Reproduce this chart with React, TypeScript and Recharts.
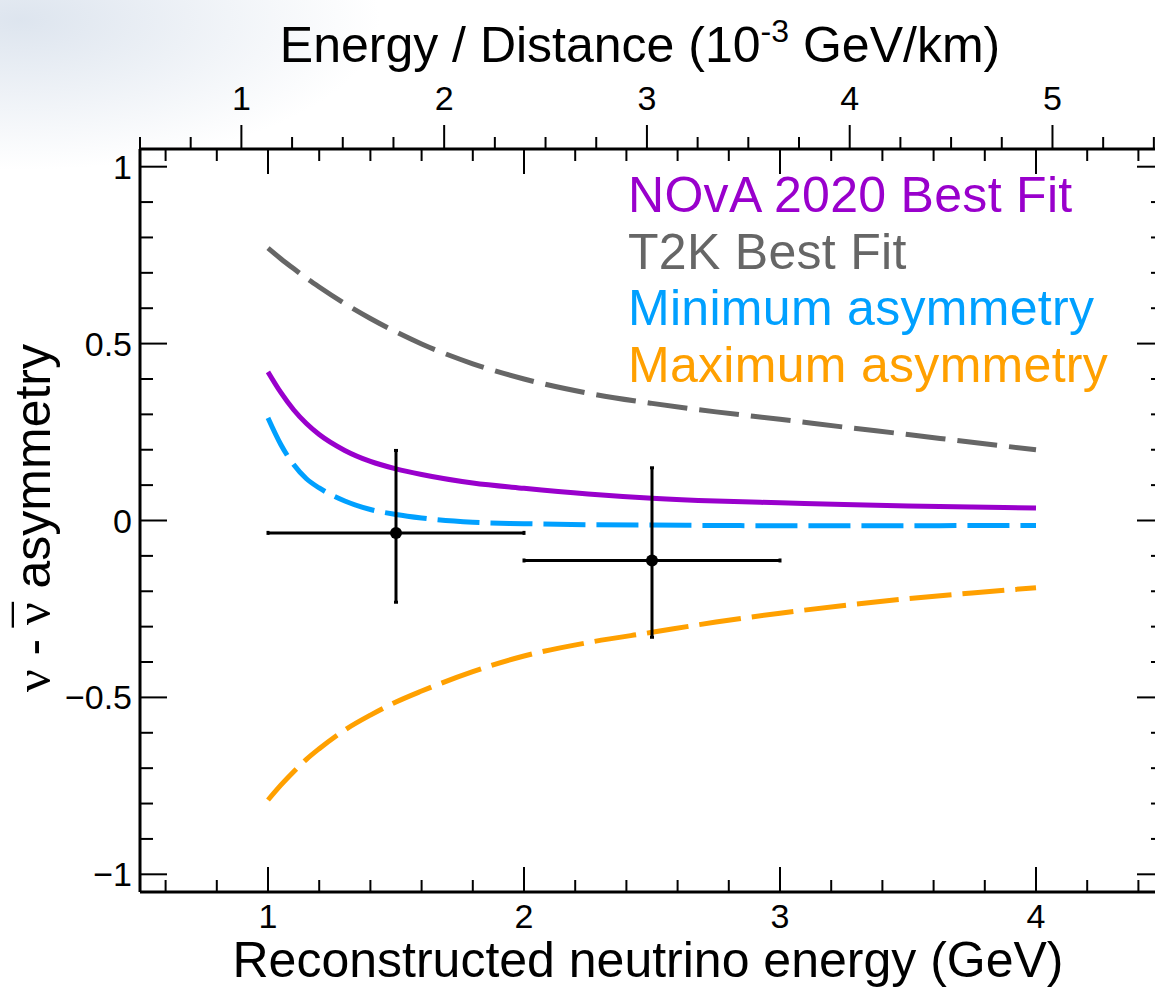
import React from "react";
import { ComposedChart, Line, Scatter, ErrorBar, XAxis, YAxis, Legend } from "recharts";

const FONT = "'Liberation Sans', Arial, Helvetica, sans-serif";
const GREEK = "'Liberation Serif', 'Times New Roman', serif";

// curves: asymmetry vs reconstructed neutrino energy (GeV)
const ENERGY = [1.0, 1.05, 1.1, 1.15, 1.2, 1.3, 1.4, 1.5, 1.6, 1.8, 2.0, 2.25, 2.5, 2.75, 3.0, 3.25, 3.5, 3.75, 4.0];
const NOVA = [0.42, 0.362, 0.313, 0.274, 0.243, 0.198, 0.167, 0.146, 0.13, 0.106, 0.091, 0.075, 0.063, 0.055, 0.05, 0.045, 0.041, 0.038, 0.035];
const T2K = [0.77, 0.74, 0.712, 0.685, 0.66, 0.613, 0.571, 0.533, 0.499, 0.443, 0.4, 0.36, 0.331, 0.307, 0.286, 0.264, 0.243, 0.221, 0.2];
const MIN_ASYM = [0.29, 0.215, 0.158, 0.118, 0.092, 0.055, 0.031, 0.017, 0.007, -0.005, -0.009, -0.012, -0.013, -0.014, -0.015, -0.015, -0.015, -0.014, -0.014];
const MAX_ASYM = [-0.79, -0.748, -0.71, -0.675, -0.645, -0.592, -0.55, -0.513, -0.482, -0.427, -0.383, -0.345, -0.316, -0.287, -0.262, -0.24, -0.221, -0.205, -0.19];

// data points with errors
const POINT_E = [1.5, 2.5];
const POINT_ASYM = [-0.035, -0.113];
const POINT_E_ERR = [0.5, 0.5];
const POINT_ASYM_LOW = [0.196, 0.217];
const POINT_ASYM_HIGH = [0.233, 0.262];

const SERIES_NAMES = ["NOvA 2020 Best Fit", "T2K Best Fit", "Minimum asymmetry", "Maximum asymmetry"];

const X_TICKS = [0.6, 0.8, 1, 1.2, 1.4, 1.6, 1.8, 2, 2.2, 2.4, 2.6, 2.8, 3, 3.2, 3.4, 3.6, 3.8, 4, 4.2, 4.4];
const TOP_TICKS = [0.5, 0.75, 1, 1.25, 1.5, 1.75, 2, 2.25, 2.5, 2.75, 3, 3.25, 3.5, 3.75, 4, 4.25, 4.5, 4.75, 5, 5.25, 5.5];
const Y_TICKS = [-1, -0.9, -0.8, -0.7, -0.6, -0.5, -0.4, -0.3, -0.2, -0.1, 0, 0.1, 0.2, 0.3, 0.4, 0.5, 0.6, 0.7, 0.8, 0.9, 1];

const curveData = ENERGY.map((e, i) => ({
  e,
  nova: NOVA[i],
  t2k: T2K[i],
  minAsym: MIN_ASYM[i],
  maxAsym: MAX_ASYM[i],
}));

const pointData = POINT_E.map((e, i) => ({
  e,
  a: POINT_ASYM[i],
  ex: POINT_E_ERR[i],
  ey: [POINT_ASYM_LOW[i], POINT_ASYM_HIGH[i]],
}));

const PLOT_W = 1024;
const PLOT_H = 743;

const isInt = (v: number) => Math.abs(v - Math.round(v)) < 1e-6;
const isHalf = (v: number) => Math.abs(v * 2 - Math.round(v * 2)) < 1e-6;
const fmt = (v: number) => (v < 0 ? "\u2212" + Math.abs(v) : String(v));

function BottomTick({ x, y, payload }: any) {
  const v = payload.value;
  const major = isInt(v);
  const len = major ? 25 : 12;
  return (
    <g>
      <line x1={x} x2={x} y1={y} y2={y - len} stroke="#000" strokeWidth={2} />
      <line x1={x} x2={x} y1={y - PLOT_H} y2={y - PLOT_H + len} stroke="#000" strokeWidth={2} />
      {major && (
        <text x={x} y={y + 36} textAnchor="middle" fontSize={34} fontFamily={FONT} fill="#000">
          {v}
        </text>
      )}
    </g>
  );
}

function TopTick({ x, y, payload }: any) {
  const v = payload.value;
  const major = isInt(v);
  const len = major ? 24 : 12;
  return (
    <g>
      <line x1={x} x2={x} y1={y} y2={y - len} stroke="#000" strokeWidth={2} />
      {major && (
        <text x={x} y={y - 39} textAnchor="middle" fontSize={34} fontFamily={FONT} fill="#000">
          {v}
        </text>
      )}
    </g>
  );
}

function LeftTick({ x, y, payload }: any) {
  const v = payload.value;
  const major = isHalf(v);
  const len = major ? 27 : 13;
  return (
    <g>
      <line x1={x} x2={x + len} y1={y} y2={y} stroke="#000" strokeWidth={2} />
      <line x1={x + PLOT_W} x2={x + PLOT_W - len} y1={y} y2={y} stroke="#000" strokeWidth={2} />
      {major && (
        <text x={x - 8} y={y + 12} textAnchor="end" fontSize={34} fontFamily={FONT} fill="#000">
          {fmt(v)}
        </text>
      )}
    </g>
  );
}

function BottomTitle({ viewBox }: any) {
  const vb = viewBox ?? { x: 140, y: 892, width: PLOT_W, height: 60 };
  return (
    <text x={vb.x + vb.width / 2 - 4} y={vb.y + 85} textAnchor="middle" fontSize={50} fontFamily={FONT} fill="#000">
      Reconstructed neutrino energy (GeV)
    </text>
  );
}

function TopTitle({ viewBox }: any) {
  const vb = viewBox ?? { x: 140, y: 89, width: PLOT_W, height: 60 };
  return (
    <text x={vb.x + vb.width / 2 - 12} y={62} textAnchor="middle" fontSize={50} fontFamily={FONT} fill="#000">
      Energy / Distance (10
      <tspan dy={-20} fontSize={32}>-3</tspan>
      <tspan dy={20}> GeV/km)</tspan>
    </text>
  );
}

function LeftTitle() {
  const cx = 50;
  const cy = 518;
  return (
    <text
      x={cx}
      y={cy}
      transform={`rotate(-90, ${cx}, ${cy})`}
      textAnchor="middle"
      fontSize={50}
      fontFamily={FONT}
      fill="#000"
    >
      <tspan fontFamily={GREEK}>{"\u03BD"}</tspan>
      {" - "}
      <tspan fontFamily={GREEK}>{"\u03BD"}</tspan>
      <tspan fontFamily={GREEK} dx="-0.5em">{"\u00AF"}</tspan>
      {" asymmetry"}
    </text>
  );
}

function LegendBox({ payload }: any) {
  const items = (payload || [])
    .filter((p: any) => SERIES_NAMES.includes(p.value))
    .sort((a: any, b: any) => SERIES_NAMES.indexOf(a.value) - SERIES_NAMES.indexOf(b.value));
  return (
    <div style={{ fontFamily: FONT, fontSize: 50, lineHeight: "56.5px", whiteSpace: "nowrap", letterSpacing: 0.3 }}>
      {items.map((p: any) => (
        <div key={p.value} style={{ color: p.color }}>
          {p.value}
        </div>
      ))}
    </div>
  );
}

const Dot = (props: any) => <circle cx={props.cx} cy={props.cy} r={6} fill="#000" />;

export default function App() {
  return (
    <div
      style={{
        position: "absolute",
        left: 0,
        top: 0,
        width: 1155,
        height: 987,
        overflow: "hidden",
        background:
          "radial-gradient(ellipse 360px 150px at 20px 20px, rgba(210,220,233,0.75) 0%, rgba(255,255,255,0) 100%), #ffffff",
      }}
    >
      <ComposedChart width={1200} height={987} data={curveData} margin={{ top: 89, right: 36, bottom: 35, left: 80 }}>
        <XAxis
          xAxisId="bottom"
          dataKey="e"
          type="number"
          domain={[0.5, 4.5]}
          allowDataOverflow
          ticks={X_TICKS}
          interval={0}
          height={60}
          tickSize={0}
          tickMargin={0}
          tickLine={false}
          axisLine={{ stroke: "#000", strokeWidth: 3 }}
          tick={<BottomTick />}
          label={<BottomTitle />}
        />
        <XAxis
          xAxisId="top"
          dataKey="e"
          orientation="top"
          type="number"
          domain={[0.5, 5.55]}
          allowDataOverflow
          ticks={TOP_TICKS}
          interval={0}
          height={60}
          tickSize={0}
          tickMargin={0}
          tickLine={false}
          axisLine={{ stroke: "#000", strokeWidth: 3 }}
          tick={<TopTick />}
          label={<TopTitle />}
        />
        <YAxis
          type="number"
          domain={[-1.05, 1.05]}
          allowDataOverflow
          ticks={Y_TICKS}
          interval={0}
          width={60}
          tickSize={0}
          tickMargin={0}
          tickLine={false}
          axisLine={{ stroke: "#000", strokeWidth: 3 }}
          tick={<LeftTick />}
          label={<LeftTitle />}
        />
        <Legend
          layout="vertical"
          align="center"
          verticalAlign="middle"
          wrapperStyle={{ top: 167, left: 628, width: "auto" }}
          content={<LegendBox />}
        />
        <Line
          xAxisId="bottom"
          type="monotone"
          dataKey="t2k"
          name="T2K Best Fit"
          stroke="#666666"
          strokeWidth={5}
          strokeDasharray="40 12"
          dot={false}
          activeDot={false}
          isAnimationActive={false}
        />
        <Line
          xAxisId="bottom"
          type="monotone"
          dataKey="minAsym"
          name="Minimum asymmetry"
          stroke="#00a0ff"
          strokeWidth={5}
          strokeDasharray="42 11"
          dot={false}
          activeDot={false}
          isAnimationActive={false}
        />
        <Line
          xAxisId="bottom"
          type="monotone"
          dataKey="maxAsym"
          name="Maximum asymmetry"
          stroke="#ffa000"
          strokeWidth={5}
          strokeDasharray="42 11"
          dot={false}
          activeDot={false}
          isAnimationActive={false}
        />
        <Line
          xAxisId="bottom"
          type="monotone"
          dataKey="nova"
          name="NOvA 2020 Best Fit"
          stroke="#9900cc"
          strokeWidth={5}
          dot={false}
          activeDot={false}
          isAnimationActive={false}
        />
        <Scatter
          xAxisId="bottom"
          data={pointData}
          dataKey="a"
          legendType="none"
          shape={<Dot />}
          isAnimationActive={false}
        >
          <ErrorBar dataKey="ex" direction="x" width={2} stroke="#000" strokeWidth={3} />
          <ErrorBar dataKey="ey" direction="y" width={2} stroke="#000" strokeWidth={3} />
        </Scatter>
      </ComposedChart>
    </div>
  );
}
